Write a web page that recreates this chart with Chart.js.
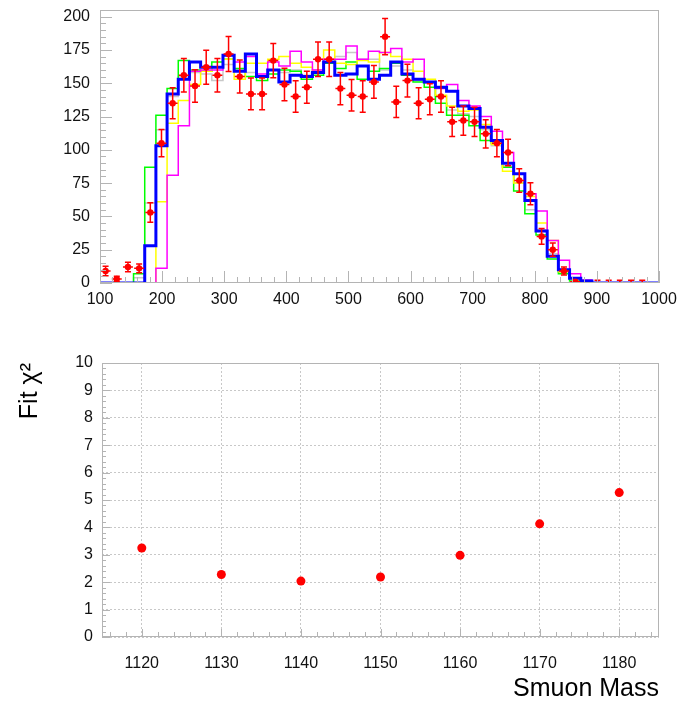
<!DOCTYPE html>
<html>
<head>
<meta charset="utf-8">
<title>Smuon mass fit</title>
<script src="https://cdn.jsdelivr.net/npm/chart.js@4.4.1/dist/chart.umd.min.js"></script>
<style>
  html, body { margin: 0; padding: 0; background: #fff; }
  #wrap { position: relative; width: 679px; height: 704px; }
  #histChart { position: absolute; left: 0; top: 0; }
  #chiChart { position: absolute; left: 0; top: 330px; }
</style>
</head>
<body>
<div id="wrap">
  <canvas id="histChart" width="679" height="320"></canvas>
  <canvas id="chiChart" width="679" height="374"></canvas>
</div>
<script>
// histogram binning: 50 bins of width 18 between 100 and 1000
const binLow = 100;
const binWidth = 18;

// measured counts per bin and their errors
const dataCounts = [9, 3, 12, 11, 53, 105, 135, 156, 148, 162,
                    156, 172, 155, 142, 142, 167, 149, 140, 147, 168,
                    168, 146, 141, 140, 151, 185, 136, 152, 135, 138,
                    140, 121, 122, 121, 112, 105, 98, 77, 67, 35,
                    25, 9, 1, 0, 0, 0, 0, 0, 0, 0];
const dataErrors = [3.5, 2, 3.5, 3.3, 7.3, 10.2, 11.6, 12.5, 12.2, 12.7,
                    12.5, 13.1, 12.4, 11.9, 11.9, 12.9, 12.2, 11.8, 12.1, 13,
                    13, 12.1, 11.9, 11.8, 12.3, 13.6, 11.7, 12.3, 11.6, 11.7,
                    11.8, 11, 11, 11, 10.6, 10.2, 9.9, 8.8, 8.2, 5.9,
                    5, 3, 1, 0, 2, 2, 2, 2, 2, 0];

// template histograms
const fitBlue = [0, 0, 0, 0, 28, 103, 142, 153, 166, 162,
                 162, 171, 159, 172, 155, 160, 151, 156, 155, 158,
                 166, 156, 157, 163, 153, 156, 166, 157, 153, 151,
                 147, 144, 133, 131, 117, 107, 90, 82, 62, 39,
                 20, 10, 3.5, 1.5, 0, 0, 0, 0, 0, 0];
const fitGreen = [0, 0, 0, 7, 87, 126, 146, 167, 160, 159,
                  166, 168, 161, 155, 152, 157, 160, 159, 153, 156,
                  165, 161, 166, 153, 159, 161, 165, 156, 151, 147,
                  135, 126, 126, 118, 107, 105, 87, 69, 52, 36,
                  18, 7, 1.5, 0, 0, 0, 0, 0, 0, 0];
const fitYellow = [0, 0, 0, 0, 0, 61, 120, 137, 149, 159,
                   162, 168, 153, 165, 165, 168, 170, 165, 162, 159,
                   175, 165, 164, 167, 166, 173, 170, 168, 159, 153,
                   141, 133, 129, 130, 119, 104, 84, 75, 65, 45,
                   32, 8.5, 3.5, 1, 0, 0, 0, 0, 0, 0];
const fitMagenta = [0, 0, 0, 0, 0, 11, 81, 118, 159, 160,
                    160, 171, 166, 170, 157, 166, 163, 174, 166, 160,
                    168, 168, 178, 168, 174, 173, 176, 166, 168, 151,
                    146, 149, 137, 133, 125, 114, 98, 82, 67, 54,
                    32, 17, 7, 2.3, 0, 0, 0, 0, 0, 0];
const fitGray = [0, 0, 0, 4, 60, 115, 140, 155, 158, 157,
                 152, 164, 160, 158, 155, 160, 158, 160, 156, 160,
                 165, 170, 173, 168, 168, 160, 163, 160, 152, 150,
                 140, 130, 127, 125, 115, 103, 88, 75, 55, 40,
                 22, 8, 3, 1, 0, 0, 0, 0, 0, 0];

// chi2 of the fit for each smuon mass hypothesis
const smuonMass = [1120, 1130, 1140, 1150, 1160, 1170, 1180];
const fitChi2 = [3.25, 2.28, 2.04, 2.19, 2.98, 4.13, 5.27];

// tick labels
const histXTicks = [100, 200, 300, 400, 500, 600, 700, 800, 900, 1000];
const histYTicks = [0, 25, 50, 75, 100, 125, 150, 175, 200];
const chiXTicks = [1120, 1130, 1140, 1150, 1160, 1170, 1180];
const chiYTicks = [0, 1, 2, 3, 4, 5, 6, 7, 8, 9, 10];

Chart.defaults.font.family = "'Liberation Sans', Arial, sans-serif";
Chart.defaults.font.size = 16;
Chart.defaults.color = '#111';

function histPoints(values) {
  const pts = values.map((v, i) => ({x: binLow + i * binWidth, y: v}));
  pts.push({x: binLow + values.length * binWidth, y: values[values.length - 1]});
  return pts;
}

// each bin drawn flat from its low edge to the next one
function histLine(values, color, width) {
  return {
    data: histPoints(values),
    borderColor: color,
    borderWidth: width,
    stepped: 'before',
    pointRadius: 0,
    fill: false
  };
}

// frame with inward major/minor ticks
const rootFrame = {
  id: 'rootFrame',
  afterDraw(chart, args, o) {
    const {ctx, chartArea: a, scales: {x, y}} = chart;
    ctx.save();
    ctx.strokeStyle = o.color;
    ctx.lineWidth = 1;
    ctx.strokeRect(a.left + 0.5, a.top + 0.5, a.width - 1, a.height - 1);
    ctx.beginPath();
    const x0 = Math.ceil(x.min / o.xMinor);
    for (let i = x0; i * o.xMinor <= x.max + 1e-9; i++) {
      const v = i * o.xMinor;
      const major = Math.abs(v / o.xMajor - Math.round(v / o.xMajor)) < 1e-6;
      const px = Math.round(x.getPixelForValue(v)) + 0.5;
      ctx.moveTo(px, a.bottom);
      ctx.lineTo(px, a.bottom - (major ? o.xLen[0] : o.xLen[1]));
    }
    const y0 = Math.ceil(y.min / o.yMinor);
    for (let i = y0; i * o.yMinor <= y.max + 1e-9; i++) {
      const v = i * o.yMinor;
      const major = Math.abs(v / o.yMajor - Math.round(v / o.yMajor)) < 1e-6;
      const py = Math.round(y.getPixelForValue(v)) + 0.5;
      ctx.moveTo(a.left, py);
      ctx.lineTo(a.left + (major ? o.yLen[0] : o.yLen[1]), py);
    }
    ctx.stroke();
    ctx.restore();
  }
};

// vertical and horizontal error bars under the data markers
const errorBars = {
  id: 'errorBars',
  beforeDatasetDraw(chart, args) {
    const ds = chart.data.datasets[args.index];
    if (!ds.errors) return;
    const {ctx, chartArea: a, scales: {x, y}} = chart;
    ctx.save();
    ctx.beginPath();
    ctx.rect(a.left, a.top, a.width, a.height);
    ctx.clip();
    ctx.strokeStyle = ds.borderColor;
    ctx.lineWidth = 1.5;
    ds.data.forEach((p, i) => {
      const e = ds.errors[i];
      if (!e) return;
      const px = x.getPixelForValue(p.x);
      const py = y.getPixelForValue(p.y);
      const top = y.getPixelForValue(p.y + e);
      const bot = y.getPixelForValue(p.y - e);
      ctx.beginPath();
      ctx.moveTo(px, top); ctx.lineTo(px, bot);
      ctx.moveTo(px - 3, top); ctx.lineTo(px + 3, top);
      ctx.moveTo(px - 3, bot); ctx.lineTo(px + 3, bot);
      if (p.y > 0) {
        ctx.moveTo(x.getPixelForValue(p.x - ds.xError), py);
        ctx.lineTo(x.getPixelForValue(p.x + ds.xError), py);
      }
      ctx.stroke();
    });
    ctx.restore();
  }
};

function fixedTicks(list) {
  return scale => { scale.ticks = list.map(v => ({value: v})); };
}
const plainLabel = v => String(v);

// top: mass distribution with templates
new Chart(document.getElementById('histChart'), {
  type: 'line',
  data: {
    datasets: [
      {
        data: dataCounts.map((v, i) => ({x: binLow + (i + 0.5) * binWidth, y: v})),
        errors: dataErrors,
        xError: 8,
        showLine: false,
        borderColor: '#ff0000',
        backgroundColor: '#ff0000',
        pointRadius: ctx => (dataCounts[ctx.dataIndex] > 0 ? 3.2 : 0),
        pointBorderWidth: 0
      },
      histLine(fitBlue, '#0000ff', 3),
      histLine(fitMagenta, '#ff00ff', 1.5),
      histLine(fitYellow, '#ffff00', 1.5),
      histLine(fitGreen, '#00ff00', 1.5),
      histLine(fitGray, '#c8c8c8', 1.5)
    ]
  },
  options: {
    responsive: false,
    animation: false,
    events: [],
    layout: {padding: {left: 0, top: 10, right: 20, bottom: 0}},
    plugins: {
      legend: {display: false},
      tooltip: {enabled: false},
      rootFrame: {color: '#b4b4b4', xMinor: 20, xMajor: 100, yMinor: 5, yMajor: 25,
                  xLen: [12, 6], yLen: [12, 6]}
    },
    scales: {
      x: {
        type: 'linear', min: 100, max: 1000,
        afterBuildTicks: fixedTicks(histXTicks),
        afterFit: s => { s.height = 37; s.paddingLeft = 0; s.paddingRight = 0; },
        grid: {display: false, drawTicks: false},
        border: {display: false},
        ticks: {padding: 7, maxRotation: 0, autoSkip: false, callback: plainLabel}
      },
      y: {
        type: 'linear', min: 0, max: 205,
        afterBuildTicks: fixedTicks(histYTicks),
        afterFit: s => { s.width = 100; s.paddingTop = 0; s.paddingBottom = 0; },
        grid: {display: false, drawTicks: false},
        border: {display: false},
        ticks: {padding: 10, autoSkip: false, callback: plainLabel}
      }
    }
  },
  plugins: [errorBars, rootFrame]
});

// bottom: fit chi2 versus smuon mass
new Chart(document.getElementById('chiChart'), {
  type: 'scatter',
  data: {
    datasets: [{
      data: smuonMass.map((m, i) => ({x: m, y: fitChi2[i]})),
      backgroundColor: '#ff0000',
      borderColor: '#ff0000',
      pointRadius: 4.5,
      pointBorderWidth: 0
    }]
  },
  options: {
    responsive: false,
    animation: false,
    events: [],
    layout: {padding: {left: 0, top: 33, right: 20, bottom: 0}},
    plugins: {
      legend: {display: false},
      tooltip: {enabled: false},
      rootFrame: {color: '#b4b4b4', xMinor: 2, xMajor: 10, yMinor: 0.2, yMajor: 1,
                  xLen: [8, 5], yLen: [8, 4]}
    },
    scales: {
      x: {
        type: 'linear', min: 1115, max: 1185,
        afterBuildTicks: fixedTicks(chiXTicks),
        afterFit: s => { s.height = 67; s.paddingLeft = 0; s.paddingRight = 0; },
        grid: {color: '#c8c8c8', lineWidth: 1, drawTicks: false},
        border: {display: false, dash: [2, 2]},
        ticks: {padding: 17, maxRotation: 0, autoSkip: false, callback: plainLabel},
        title: {display: true, text: 'Smuon Mass', align: 'end',
                font: {size: 25}, color: '#000', padding: {top: 0, bottom: 0}}
      },
      y: {
        type: 'linear', min: 0, max: 10,
        afterBuildTicks: fixedTicks(chiYTicks),
        afterFit: s => { s.width = 102; s.paddingTop = 0; s.paddingBottom = 0; },
        grid: {color: '#c8c8c8', lineWidth: 1, drawTicks: false},
        border: {display: false, dash: [2, 2]},
        ticks: {padding: 9, autoSkip: false, callback: plainLabel},
        title: {display: true, text: 'Fit χ²', align: 'end',
                font: {size: 25}, color: '#000', padding: {top: 15, bottom: 0}}
      }
    }
  },
  plugins: [rootFrame]
});
</script>
</body>
</html>
